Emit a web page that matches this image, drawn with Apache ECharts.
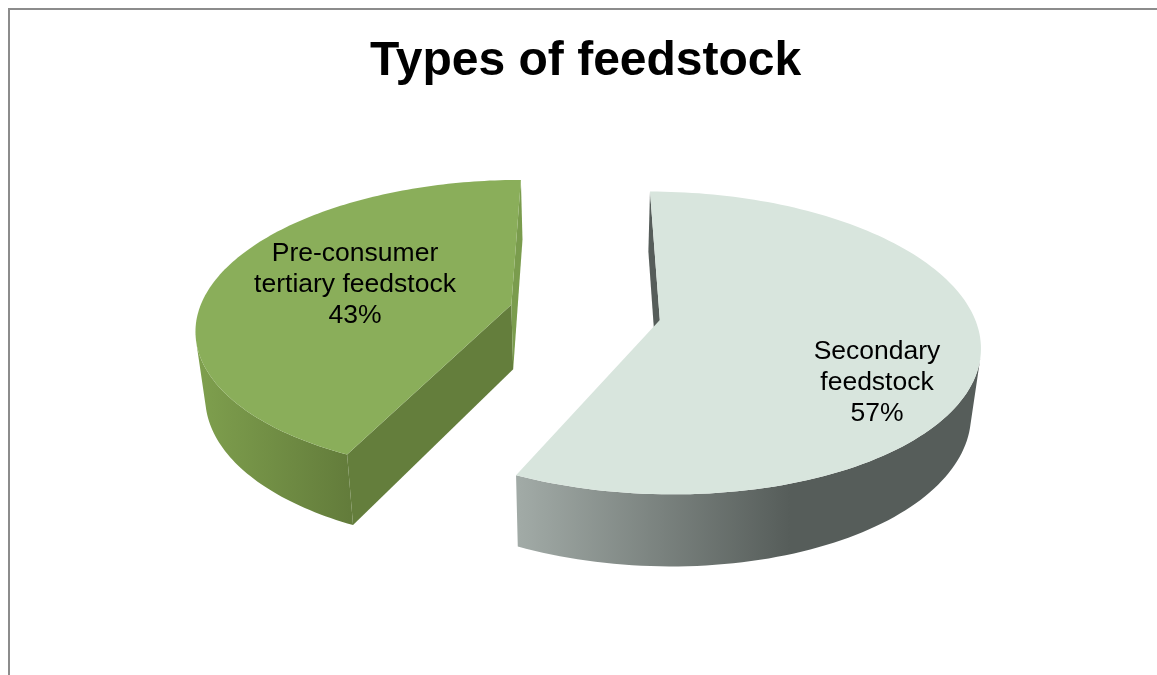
<!DOCTYPE html>
<html>
<head>
<meta charset="utf-8">
<title>Types of feedstock</title>
<script src="https://cdn.jsdelivr.net/npm/echarts@6/dist/echarts.min.js"></script>
<style>
html, body { margin: 0; padding: 0; background: #fff; }
#chart { width: 1157px; height: 675px; }
</style>
</head>
<body>
<div id="chart"></div>
<script>
var categories = ['Secondary\nfeedstock', 'Pre-consumer\ntertiary feedstock'];
var shares = [57, 43];

var topColors = ['#d8e5dd', '#8aae5a'];
var wallStops = [
    [[520, '#a1aaa6'], [790, '#565d5a'], [985, '#565d5a']],
    [[195, '#7fa04e'], [350, '#637c3b'], [520, '#637c3b']]
];
// colour of the cut faces: first edge, second edge of each slice (null = hidden)
var cutColors = [['#565d5a', null], ['#647e3c', '#7a9c4d']];
var labelAnchors = [[877, 383], [355, 285]];

// 3d view of the pie
var view = { cx: 585, cy: 312.3, r: 313, flat: 145.6, persp: 0.15, depth: 65, shrink: 0.975, explode: 0.243 };
var total = shares.reduce(function (a, b) { return a + b; }, 0);

function project(u, v, low) {
    var s = 1 / (1 + view.persp * v);
    var x = view.cx + view.r * u * s;
    var y = view.cy - view.flat * v * s;
    if (low) {
        x = view.cx + (x - view.cx) * view.shrink;
        y = y + view.depth * Math.pow(s, 0.6);
    }
    return [x, y];
}

function sliceAngles(index) {
    var before = 0;
    for (var i = 0; i < index; i++) before += shares[i];
    return [before / total * Math.PI * 2, (before + shares[index]) / total * Math.PI * 2];
}

function wallFill(stops) {
    var x0 = stops[0][0];
    var x1 = stops[stops.length - 1][0];
    var list = stops.map(function (s) {
        return { offset: (s[0] - x0) / (x1 - x0), color: s[1] };
    });
    return new echarts.graphic.LinearGradient(x0, 0, x1, 0, list, true);
}

// only the part of the rim that faces the viewer gets a wall
function frontRun(arcTop, arcLow) {
    var first = -1;
    var last = -1;
    for (var q = 0; q < arcTop.length - 1; q++) {
        var dx = arcTop[q + 1][0] - arcTop[q][0];
        var dy = arcTop[q + 1][1] - arcTop[q][1];
        var lx = arcLow[q][0] - arcTop[q][0];
        var ly = arcLow[q][1] - arcTop[q][1];
        if (dx * ly - dy * lx < 0) {
            if (first < 0) first = q;
            last = q + 1;
        }
    }
    return [first, last];
}

function renderSlice(params, api) {
    var i = params.dataIndex;
    var ang = sliceAngles(i);
    var mid = (ang[0] + ang[1]) / 2;
    var ou = Math.sin(mid) * view.explode;
    var ov = Math.cos(mid) * view.explode;
    var steps = 140;
    var arcTop = [];
    var arcLow = [];
    for (var k = 0; k <= steps; k++) {
        var a = ang[0] + (ang[1] - ang[0]) * k / steps;
        arcTop.push(project(ou + Math.sin(a), ov + Math.cos(a), false));
        arcLow.push(project(ou + Math.sin(a), ov + Math.cos(a), true));
    }
    var apexTop = project(ou, ov, false);
    var apexLow = project(ou, ov, true);
    var children = [];
    function poly(points, fill) {
        children.push({ type: 'polygon', shape: { points: points }, style: { fill: fill } });
    }
    var run = frontRun(arcTop, arcLow);
    var wallTop = arcTop.slice(run[0], run[1] + 1);
    var wallLow = arcLow.slice(run[0], run[1] + 1).reverse();
    poly(wallTop.concat(wallLow), wallFill(wallStops[i]));
    if (cutColors[i][0]) poly([apexTop, arcTop[0], arcLow[0], apexLow], cutColors[i][0]);
    if (cutColors[i][1]) poly([apexTop, arcTop[steps], arcLow[steps], apexLow], cutColors[i][1]);
    poly([apexTop].concat(arcTop), topColors[i]);
    children.push({
        type: 'text',
        x: labelAnchors[i][0],
        y: labelAnchors[i][1],
        style: {
            text: categories[i] + '\n' + api.value(0) + '%',
            fill: '#000',
            font: '26.5px "Liberation Sans", Arial, sans-serif',
            lineHeight: 31,
            align: 'center',
            verticalAlign: 'middle'
        }
    });
    return { type: 'group', children: children };
}

var chart = echarts.init(document.getElementById('chart'));
chart.setOption({
    animation: false,
    backgroundColor: '#fff',
    title: {
        text: 'Types of feedstock',
        left: 365,
        top: 33,
        textStyle: { fontFamily: '"Liberation Sans", Arial, sans-serif', fontSize: 48, fontWeight: 'bold', color: '#000' }
    },
    graphic: [{
        type: 'rect',
        shape: { x: 9, y: 9, width: 1200, height: 720 },
        style: { fill: 'none', stroke: '#8c8c8c', lineWidth: 2 },
        silent: true
    }],
    series: [{
        type: 'custom',
        coordinateSystem: 'none',
        renderItem: renderSlice,
        data: shares
    }]
});
</script>
</body>
</html>
